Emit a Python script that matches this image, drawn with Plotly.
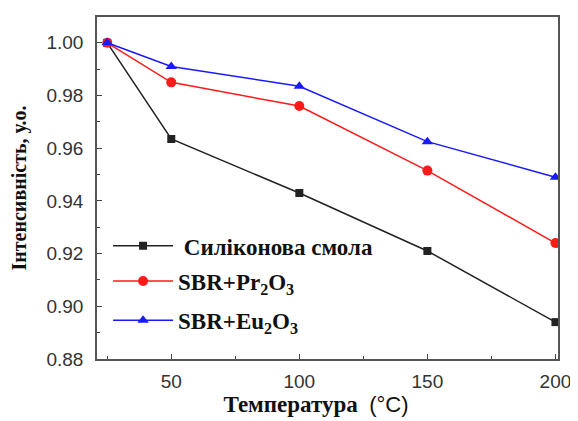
import plotly.graph_objects as go

temperature = [25, 50, 100, 150, 200]
silicone = [1.000, 0.9635, 0.943, 0.921, 0.894]
sbr_pr = [1.000, 0.985, 0.976, 0.9515, 0.924]
sbr_eu = [1.000, 0.991, 0.9835, 0.9625, 0.949]

names = ["&nbsp;<b>Силіконова смола</b>", "<b>SBR+Pr<sub>2</sub>O<sub>3</sub></b>", "<b>SBR+Eu<sub>2</sub>O<sub>3</sub></b>"]
x_ticks = [50, 100, 150, 200]
y_ticks = [0.88, 0.90, 0.92, 0.94, 0.96, 0.98, 1.00]

fig = go.Figure()
series = [
    (silicone, names[0], "#222222", "square", 8, "legend"),
    (sbr_pr, names[1], "#ff1a1a", "circle", 10, "legend2"),
    (sbr_eu, names[2], "#1a1aff", "triangle-up", 10, "legend3"),
]
for ys, nm, col, sym, sz, lg in series:
    fig.add_trace(go.Scatter(
        x=temperature, y=ys, name=nm, mode="lines+markers",
        line=dict(color=col, width=1.5),
        marker=dict(symbol=sym, size=sz, color=col),
        legend=lg, showlegend=True,
    ))

leg_common = dict(font=dict(family="Liberation Serif", size=23, color="#111"),
                  bgcolor="rgba(0,0,0,0)", xanchor="left", yanchor="middle",
                  itemwidth=60)
fig.update_layout(
    width=570, height=413,
    margin=dict(l=89, r=15, t=7, b=62),
    showlegend=True,
    paper_bgcolor="white", plot_bgcolor="white",
    legend=dict(x=0.024, y=0.331, **leg_common),
    legend2=dict(x=0.024, y=0.228, **leg_common),
    legend3=dict(x=0.024, y=0.113, **leg_common),
    xaxis=dict(
        range=[21, 201], tickvals=x_ticks, ticks="inside", ticklen=5,
        minor=dict(dtick=25, tick0=0, ticks="inside", ticklen=3),
        showline=True, linecolor="#555", linewidth=1.5, mirror=True,
        showgrid=False, zeroline=False, ticklabelstandoff=4,
        tickfont=dict(family="Liberation Sans", size=19, color="#333"),
        title=dict(text="<b>Температура</b>&nbsp;&nbsp;<span style='font-family:Liberation Sans;font-size:22px;font-weight:normal'>(°C)</span>&nbsp;&nbsp;&nbsp;&nbsp;",
                   font=dict(family="Liberation Serif", size=23, color="#111"), standoff=4),
    ),
    yaxis=dict(
        range=[0.88, 1.0098], tickvals=y_ticks, tickformat=".2f", ticks="inside", ticklen=5,
        minor=dict(dtick=0.01, tick0=0.88, ticks="inside", ticklen=3),
        showline=True, linecolor="#555", linewidth=1.5, mirror=True,
        showgrid=False, zeroline=False, ticklabelstandoff=8,
        tickfont=dict(family="Liberation Sans", size=19, color="#333"),
        title=dict(text="<b>Інтенсивність, у.о.</b>",
                   font=dict(family="Liberation Serif", size=20, color="#111"), standoff=14),
    ),
)
fig.write_html("out.html")
